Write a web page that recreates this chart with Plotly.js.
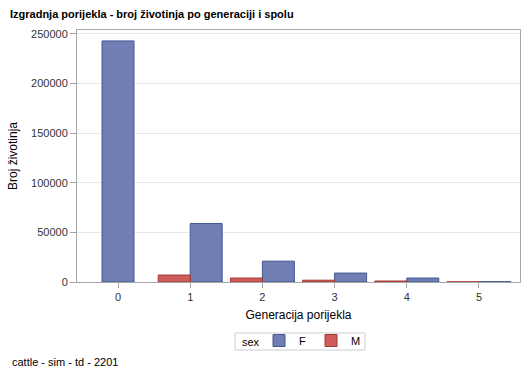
<!DOCTYPE html>
<html><head><meta charset="utf-8">
<script src="https://cdn.plot.ly/plotly-3.0.1.min.js"></script>
<style>html,body{margin:0;padding:0;background:#fff}#chart{width:529px;height:378px}</style>
</head><body><div id="chart"></div>
<script>
const generations = [0, 1, 2, 3, 4, 5];
const tickLabels = ['0', '1', '2', '3', '4', '5'];
const femaleCounts = [243000, 59000, 21000, 9000, 4000, 300];
const maleCounts = [null, 7000, 4000, 1800, 1000, 200];

const W = 0.443;
const fOffsets = maleCounts.map(v => (v === null ? -W / 2 : 0));
const mOffsets = maleCounts.map(() => -W);

const font = 'Liberation Sans, Arial, sans-serif';
// plot area pixels: left 77, right 520, top 30, bottom 282
const px = p => (p - 77) / 443;
const py = p => (282 - p) / 252;

const data = [
  {type: 'bar', name: 'F', x: generations, y: femaleCounts, width: W, offset: fOffsets,
   marker: {color: '#6F7EB3', line: {color: '#445694', width: 1}}},
  {type: 'bar', name: 'M', x: generations, y: maleCounts, width: W, offset: mOffsets,
   marker: {color: '#D05B5B', line: {color: '#A23A2E', width: 1}}}
];
const layout = {
  width: 529, height: 378,
  margin: {l: 77, r: 9, t: 30, b: 96},
  paper_bgcolor: '#fff', plot_bgcolor: '#fff',
  barmode: 'overlay',
  font: {family: font, size: 11, color: '#000'},
  title: {text: '<b>Izgradnja porijekla - broj životinja po generaciji i spolu</b>',
    x: 10 / 529, xanchor: 'left', xref: 'container', y: 1 - 14 / 378, yanchor: 'middle', yref: 'container',
    font: {family: font, size: 11, color: '#000'}},
  xaxis: {type: 'linear', range: [-0.568, 5.568], tickvals: generations, ticktext: tickLabels,
    showgrid: false, zeroline: false, showline: true, mirror: true, linecolor: '#A6A6A6', linewidth: 1,
    ticks: 'outside', ticklen: 5, tickcolor: '#A6A6A6',
    tickfont: {family: font, size: 11, color: '#333'},
    title: {text: 'Generacija porijekla', standoff: 8, font: {family: font, size: 12, color: '#000'}}},
  yaxis: {range: [0, 254000], tickvals: [0, 50000, 100000, 150000, 200000, 250000],
    ticktext: ['0', '50000', '100000', '150000', '200000', '250000'],
    showgrid: true, gridcolor: '#E8E8E8', zeroline: false, showline: true, mirror: true,
    linecolor: '#A6A6A6', linewidth: 1, ticks: 'outside', ticklen: 6, tickcolor: '#A6A6A6',
    tickfont: {family: font, size: 11, color: '#333'},
    title: {text: 'Broj životinja', standoff: 10, font: {family: font, size: 12, color: '#000'}}},
  showlegend: true,
  legend: {orientation: 'h', x: px(259), xanchor: 'left', y: py(326), yanchor: 'top',
    borderwidth: 0, bgcolor: 'rgba(0,0,0,0)', itemwidth: 30, traceorder: 'normal',
    font: {family: font, size: 11, color: '#000'}},
  shapes: [{type: 'rect', xref: 'paper', yref: 'paper', x0: px(235), x1: px(365), y0: py(333), y1: py(350),
    line: {color: '#CCCCCC', width: 1}, fillcolor: 'rgba(0,0,0,0)'}],
  annotations: [
    {text: 'sex', xref: 'paper', yref: 'paper', x: px(240), xanchor: 'left', y: py(341.5), yanchor: 'middle',
     showarrow: false, font: {family: font, size: 11, color: '#000'}},
    {text: 'cattle - sim - td - 2201', xref: 'paper', yref: 'paper',
     x: px(10), xanchor: 'left', y: py(362), yanchor: 'middle', showarrow: false,
     font: {family: font, size: 11, color: '#000'}}]
};
Plotly.newPlot('chart', data, layout, {displayModeBar: false});
</script></body></html>
